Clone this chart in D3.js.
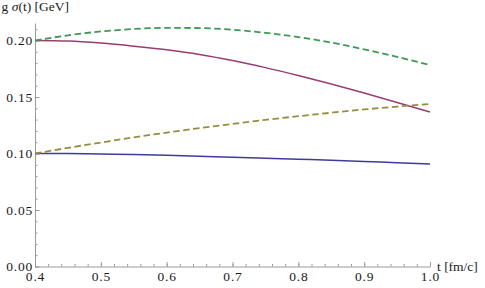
<!DOCTYPE html>
<html>
<head>
<meta charset="utf-8">
<script src="https://cdn.jsdelivr.net/npm/d3@7"></script>
<style>
  html, body { margin: 0; padding: 0; background: #fff; }
  svg { display: block; }
</style>
</head>
<body>
<div id="chart"></div>
<script>
// g σ(t) vs t — four curves

const tValues = [0.40, 0.45, 0.50, 0.55, 0.60, 0.65, 0.70, 0.75, 0.80, 0.85, 0.90, 0.95, 1.00];

const greenDashed = [0.2000, 0.2046, 0.2080, 0.2102, 0.2112, 0.2110, 0.2095, 0.2068, 0.2030, 0.1982, 0.1922, 0.1855, 0.1783];
const purpleSolid = [0.2000, 0.1995, 0.1977, 0.1950, 0.1918, 0.1877, 0.1823, 0.1760, 0.1690, 0.1615, 0.1535, 0.1452, 0.1367];
const oliveDashed = [0.1000, 0.1050, 0.1097, 0.1143, 0.1185, 0.1225, 0.1262, 0.1298, 0.1330, 0.1361, 0.1390, 0.1415, 0.1438];
const blueSolid   = [0.1000, 0.0999, 0.0996, 0.0991, 0.0984, 0.0976, 0.0967, 0.0958, 0.0950, 0.0941, 0.0930, 0.0918, 0.0907];

const xMajorTicks = [0.4, 0.5, 0.6, 0.7, 0.8, 0.9, 1.0];
const yMajorTicks = [0.00, 0.05, 0.10, 0.15, 0.20];

const W = 485, H = 288;
const AXIS = "#9a9a9a";
const FONT = '"Liberation Serif"';

const series = [
  { values: blueSolid,   color: "#3d3d99", dash: null },
  { values: purpleSolid, color: "#993d71", dash: null },
  { values: oliveDashed, color: "#998c3d", dash: "6.5,3.5" },
  { values: greenDashed, color: "#3d9954", dash: "6.5,3.5" }
];

const svg = d3.select("#chart").append("svg")
  .attr("width", W)
  .attr("height", H);

const x = d3.scaleLinear().domain([0.4, 1.0]).range([35, 430]);
const y = d3.scaleLinear().domain([0, 0.2155]).range([266.5, 23]);

// minor ticks (every 0.02 on x, every 0.01 on y)
const xMinor = d3.range(0.4, 1.0001, 0.02).map(v => +v.toFixed(2));
const yMinor = d3.range(0, 0.2151, 0.01).map(v => +v.toFixed(2));

function styleAxis(g) {
  g.select(".domain").attr("stroke", AXIS).attr("stroke-width", 1);
  g.selectAll(".tick line").attr("stroke", AXIS).attr("stroke-width", 1);
  g.selectAll(".tick text")
    .attr("fill", "#1a1a1a")
    .style("font-family", FONT)
    .style("font-size", "13.5px")
    .style("letter-spacing", "0.8px");
}

// x axis
svg.append("g")
  .attr("transform", `translate(0,${y(0)})`)
  .call(d3.axisBottom(x).tickValues(xMinor).tickSize(-2.5).tickSizeOuter(0).tickFormat(""))
  .call(g => g.select(".domain").remove())
  .call(styleAxis);

svg.append("g")
  .attr("transform", `translate(0,${y(0)})`)
  .call(d3.axisBottom(x).tickValues(xMajorTicks).tickSize(-4.5).tickSizeOuter(0)
    .tickPadding(11).tickFormat(d3.format(".1f")))
  .call(styleAxis)
  .call(g => g.selectAll(".tick text").attr("dy", "0.25em"));

// y axis
svg.append("g")
  .attr("transform", `translate(${x(0.4)},0)`)
  .call(d3.axisLeft(y).tickValues(yMinor).tickSize(-2.5).tickSizeOuter(0).tickFormat(""))
  .call(g => g.select(".domain").remove())
  .call(styleAxis);

svg.append("g")
  .attr("transform", `translate(${x(0.4)},0)`)
  .call(d3.axisLeft(y).tickValues(yMajorTicks).tickSize(-4.5).tickSizeOuter(0)
    .tickPadding(2).tickFormat(d3.format(".2f")))
  .call(styleAxis);

// curves
const line = d3.line()
  .x((d, i) => x(tValues[i]))
  .y(d => y(d))
  .curve(d3.curveMonotoneX);

svg.append("g")
  .selectAll("path")
  .data(series)
  .join("path")
  .attr("fill", "none")
  .attr("stroke", d => d.color)
  .attr("stroke-width", d => d.dash ? 1.8 : 1.5)
  .attr("stroke-dasharray", d => d.dash)
  .attr("d", d => line(d.values));

// axis labels
const yLabel = svg.append("text")
  .attr("x", 69)
  .attr("y", 10.5)
  .attr("text-anchor", "end")
  .style("font-family", FONT)
  .style("font-size", "13.5px")
  .attr("fill", "#1a1a1a");
yLabel.append("tspan").text("g ");
yLabel.append("tspan").attr("font-style", "italic").text("σ");
yLabel.append("tspan").text("(t) [GeV]");

svg.append("text")
  .attr("x", 437)
  .attr("y", 271)
  .style("font-family", FONT)
  .style("font-size", "13.5px")
  .attr("fill", "#1a1a1a")
  .text("t [fm/c]");
</script>
</body>
</html>
